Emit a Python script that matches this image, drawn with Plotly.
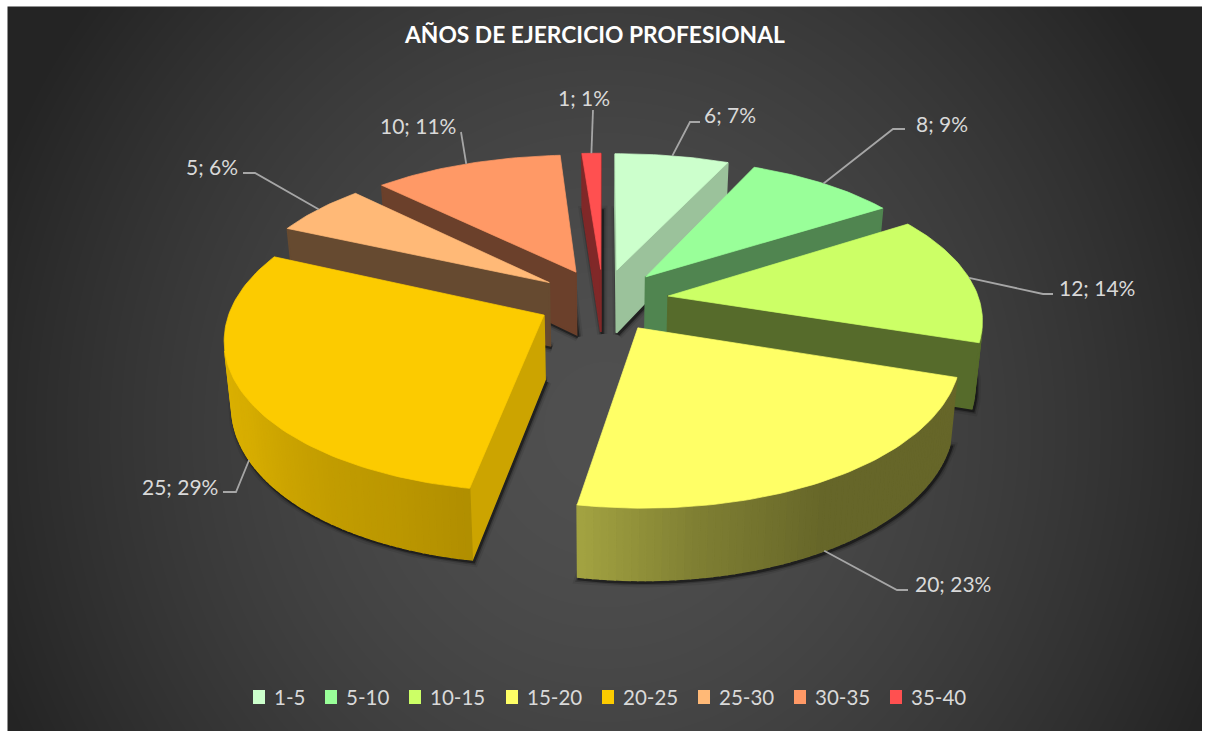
import base64, struct, zlib
import numpy as np
import plotly.graph_objects as go

TITLE = "AÑOS DE EJERCICIO PROFESIONAL"
CATEGORIES = ["1-5", "5-10", "10-15", "15-20", "20-25", "25-30", "30-35", "35-40"]
VALUES = [6, 8, 12, 20, 25, 5, 10, 1]
COLORS = ["#CCFFCC", "#99FF99", "#CCFF66", "#FFFF66", "#FCCB00", "#FFB977", "#FF9966", "#FF5050"]

# radial wall shade of each slice, arc wall shade stops (angle, shade)
WALL_SHADE = [0.76, 0.52, 0.42, 0.40, 0.81, 0.40, 0.42, 0.50]
ARC_STOPS = {
    3: ([107.6, 150, 172, 190.3], [0.40, 0.40, 0.50, 0.64]),
    4: ([190.3, 202, 216, 240, 293.8], [0.70, 0.74, 0.77, 0.85, 0.90]),
}
DRAW_ORDER = [7, 6, 5, 0, 1, 2, 4, 3]

# leader elbows and label placement, in picture pixels
LEADERS = [
    {"elbow": (690, 122), "end": (700, 122), "text": (702, 114), "anchor": "left", "low": False},
    {"elbow": (893, 129), "end": (905, 129), "text": (914, 123), "anchor": "left", "low": False},
    {"elbow": (1043, 294), "end": (1053, 294), "text": (1057, 287), "anchor": "left", "low": False},
    {"elbow": (897, 590), "end": (908, 590), "text": (913, 583), "anchor": "left", "low": True},
    {"elbow": (236, 492), "end": (223, 492), "text": (220, 486), "anchor": "right", "low": True},
    {"elbow": (255, 173), "end": (243, 173), "text": (240, 166), "anchor": "right", "low": False},
    {"elbow": (461, 132), "end": (461, 132), "text": (458, 125), "anchor": "right", "low": False},
    {"elbow": (593, 110), "end": (593, 110), "text": (612, 97), "anchor": "right", "low": False},
]
LEGEND_X = [253, 325, 409, 506, 602, 698, 794, 890]
LEGEND_Y = 697

CX, CY, A, EXPLODE = 603.0, 300.0, 311.0, 0.212
FONT = "Lato, 'Open Sans', sans-serif"


def project(x, y):
    s = 1 + 0.14 * y + 0.015 * y * y
    return CX + A * x * s, CY + 149 * y + 23 * y * y


def drop(px, y):
    """Foot of the wall under a top-face point."""
    return CX + (px[0] - CX) * 0.98, px[1] + 64 + 7 * y


def shade_hex(color, k):
    r, g, b = (int(color[i:i + 2], 16) for i in (1, 3, 5))
    return f"rgb({r * k:.0f},{g * k:.0f},{b * k:.0f})"


def poly(fig, pts, color, width=0.7, name=None):
    xs, ys = zip(*pts)
    fig.add_trace(go.Scatter(
        x=list(xs) + [xs[0]], y=list(ys) + [ys[0]], mode="lines", fill="toself",
        fillcolor=color, line=dict(color=color, width=width), hoverinfo="skip",
        showlegend=False, name=name))


def png_background(w, h):
    yy, xx = np.mgrid[0:h, 0:w]
    r = np.sqrt(((xx - w * 0.5) / 600.0) ** 2 + ((yy - h * 0.58) / 640.0) ** 2)
    v = np.clip(80 - 38 * r ** 1.6, 36, 90).astype(np.uint8)
    raw = b"".join(b"\x00" + v[i].tobytes() for i in range(h))

    def chunk(t, d):
        return struct.pack(">I", len(d)) + t + d + struct.pack(">I", zlib.crc32(t + d))
    data = (b"\x89PNG\r\n\x1a\n" + chunk(b"IHDR", struct.pack(">IIBBBBB", w, h, 8, 0, 0, 0, 0))
            + chunk(b"IDAT", zlib.compress(raw, 9)) + chunk(b"IEND", b""))
    return "data:image/png;base64," + base64.b64encode(data).decode()


total = sum(VALUES)
edges = np.concatenate([[0], np.cumsum(VALUES)]) / total * 360.0
fig = go.Figure()
anchors = {}

for i in DRAW_ORDER:
    a0, a1 = edges[i], edges[i + 1]
    mid = np.radians((a0 + a1) / 2)
    ox, oy = EXPLODE * np.sin(mid), -EXPLODE * np.cos(mid)
    angles = np.linspace(a0, a1, max(3, int((a1 - a0) / 1.2) + 2))

    world = [(ox + np.sin(np.radians(t)), oy - np.cos(np.radians(t))) for t in angles]
    apex_w = (ox, oy)
    loop = [apex_w] + world
    top = [project(*w) for w in loop]
    foot = [drop(p, w[1]) for p, w in zip(top, loop)]

    # soft contact shadow along the foot of the slice
    sx, sy = zip(*[(p[0] + 1.5, p[1] + 2) for p in foot + foot[:1]])
    for width, alpha in ((10, 0.08), (6, 0.18), (3, 0.42)):
        fig.add_trace(go.Scatter(x=list(sx), y=list(sy), mode="lines", hoverinfo="skip",
                                 showlegend=False, line=dict(color=f"rgba(0,0,0,{alpha})", width=width)))

    n = len(loop)
    for j in range(n):
        k = (j + 1) % n
        p1, p2, q2, q1 = top[j], top[k], foot[k], foot[j]
        cross = (p2[0] - p1[0]) * (q2[1] - p2[1]) - (p2[1] - p1[1]) * (q2[0] - p2[0])
        if cross >= 0:
            continue
        if j == 0 or k == 0:
            shade = WALL_SHADE[i]
        elif i in ARC_STOPS:
            shade = float(np.interp((angles[j - 1] + angles[k - 1]) / 2, *ARC_STOPS[i]))
        else:
            shade = WALL_SHADE[i]
        poly(fig, [p1, p2, q2, q1], shade_hex(COLORS[i], shade), width=1.6)

    poly(fig, top, COLORS[i], name=CATEGORIES[i])

    m = project(ox + np.sin(mid), oy - np.cos(mid))
    anchors[i] = drop(m, oy - np.cos(mid)) if LEADERS[i]["low"] else m

annotations = []
for i, (v, lead) in enumerate(zip(VALUES, LEADERS)):
    s = anchors[i]
    fig.add_trace(go.Scatter(
        x=[s[0], lead["elbow"][0], lead["end"][0]], y=[s[1], lead["elbow"][1], lead["end"][1]],
        mode="lines", line=dict(color="#A6A6A6", width=1.8), hoverinfo="skip", showlegend=False))
    annotations.append(dict(
        x=lead["text"][0], y=lead["text"][1], xref="x", yref="y", showarrow=False,
        text=f"{v}; {round(100 * v / total)}%", xanchor=lead["anchor"], yanchor="middle",
        font=dict(family=FONT, size=21, color="#D9D9D9")))

shapes = [dict(type="rect", xref="x", yref="y", x0=386, x1=863, y0=17, y1=78,
               fillcolor="rgba(255,255,255,0.025)", line_width=0, layer="below")]
for name, color, lx in zip(CATEGORIES, COLORS, LEGEND_X):
    shapes.append(dict(type="rect", xref="x", yref="y", x0=lx, x1=lx + 12, y0=LEGEND_Y - 7, y1=LEGEND_Y + 7,
                       fillcolor=color, line_width=0))
    annotations.append(dict(x=lx + 19, y=LEGEND_Y, xref="x", yref="y", showarrow=False, text=name,
                            xanchor="left", yanchor="middle",
                            font=dict(family=FONT, size=20.5, color="#D9D9D9")))
annotations.append(dict(x=594, y=34, xref="x", yref="y", showarrow=False, text=f"<b>{TITLE}</b>",
                        xanchor="center", yanchor="middle",
                        font=dict(family=FONT, size=22.8, color="#FFFFFF")))

fig.update_layout(
    width=1208, height=731, margin=dict(l=0, r=0, t=0, b=0), paper_bgcolor="#FFFFFF",
    plot_bgcolor="rgba(0,0,0,0)", showlegend=False,
    xaxis=dict(range=[0, 1208], visible=False, fixedrange=True),
    yaxis=dict(range=[731, 0], visible=False, fixedrange=True),
    images=[dict(source=png_background(1195, 725), xref="x", yref="y", x=7.5, y=6.5,
                 sizex=1194.5, sizey=724.5, sizing="stretch", layer="below",
                 xanchor="left", yanchor="top")],
    shapes=shapes, annotations=annotations)

fig.write_html("out.html", config={"displayModeBar": False},
               post_script="document.body.style.margin='0';document.documentElement.style.overflow='hidden';")
